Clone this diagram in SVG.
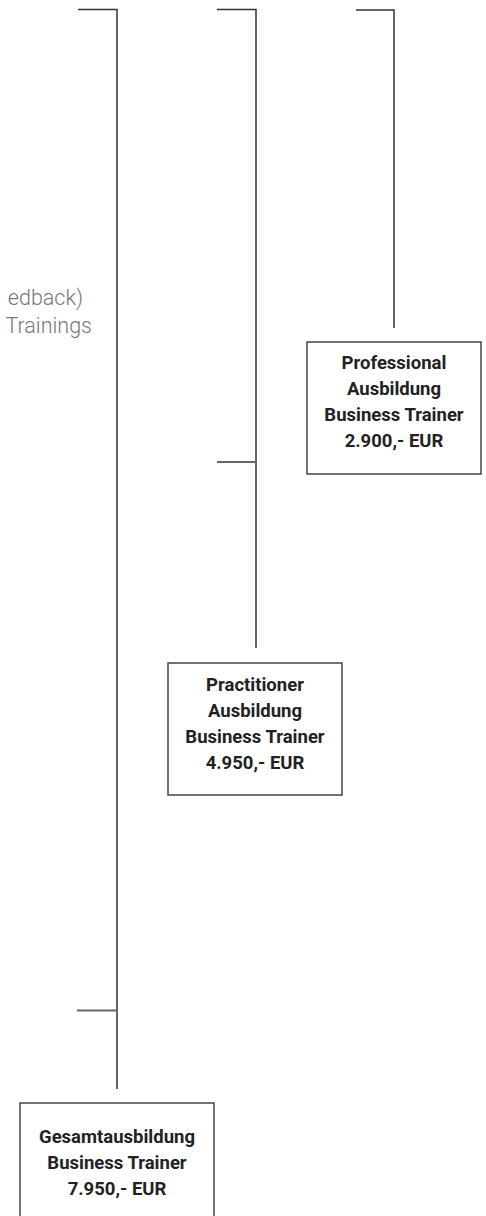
<svg xmlns="http://www.w3.org/2000/svg" width="486" height="1216" viewBox="0 0 486 1216">
<style>
.ln{fill:none;stroke:#333;stroke-width:1.5}
.lg{fill:none;stroke:#666;stroke-width:2}
.box{fill:#fff;stroke:#444;stroke-width:1.5}
.t{font-family:Roboto,"Liberation Sans",sans-serif;font-weight:700;font-size:18.5px;fill:#222;text-anchor:middle}
.g{font-family:Roboto,"Liberation Sans",sans-serif;font-weight:300;font-size:21.5px;fill:#777;text-anchor:end}
</style>
<rect width="486" height="1216" fill="#fff"/>
<g id="connectors">
<polyline class="ln" points="78,9.5 117,9.5 117,1089"/>
<line class="lg" x1="77" y1="1010.5" x2="117" y2="1010.5"/>
<polyline class="ln" points="217,9.5 256,9.5 256,648"/>
<line class="lg" x1="217" y1="462" x2="256" y2="462"/>
<polyline class="ln" points="356,10 394,10 394,328"/>
</g>
<g id="notes">
<text class="g" x="83" y="305">edback)</text>
<text class="g" x="92" y="333">Trainings</text>
</g>
<g id="professional">
<rect class="box" x="307" y="342" width="174" height="132"/>
<text class="t" x="394" y="369">Professional</text>
<text class="t" x="394" y="395">Ausbildung</text>
<text class="t" x="394" y="421">Business Trainer</text>
<text class="t" x="394" y="447">2.900,- EUR</text>
</g>
<g id="practitioner">
<rect class="box" x="168" y="663" width="174" height="132"/>
<text class="t" x="255" y="691">Practitioner</text>
<text class="t" x="255" y="717">Ausbildung</text>
<text class="t" x="255" y="743">Business Trainer</text>
<text class="t" x="255" y="769">4.950,- EUR</text>
</g>
<g id="gesamt">
<rect class="box" x="20" y="1103" width="194" height="130"/>
<text class="t" x="117" y="1143">Gesamtausbildung</text>
<text class="t" x="117" y="1169">Business Trainer</text>
<text class="t" x="117" y="1195">7.950,- EUR</text>
</g>
</svg>
